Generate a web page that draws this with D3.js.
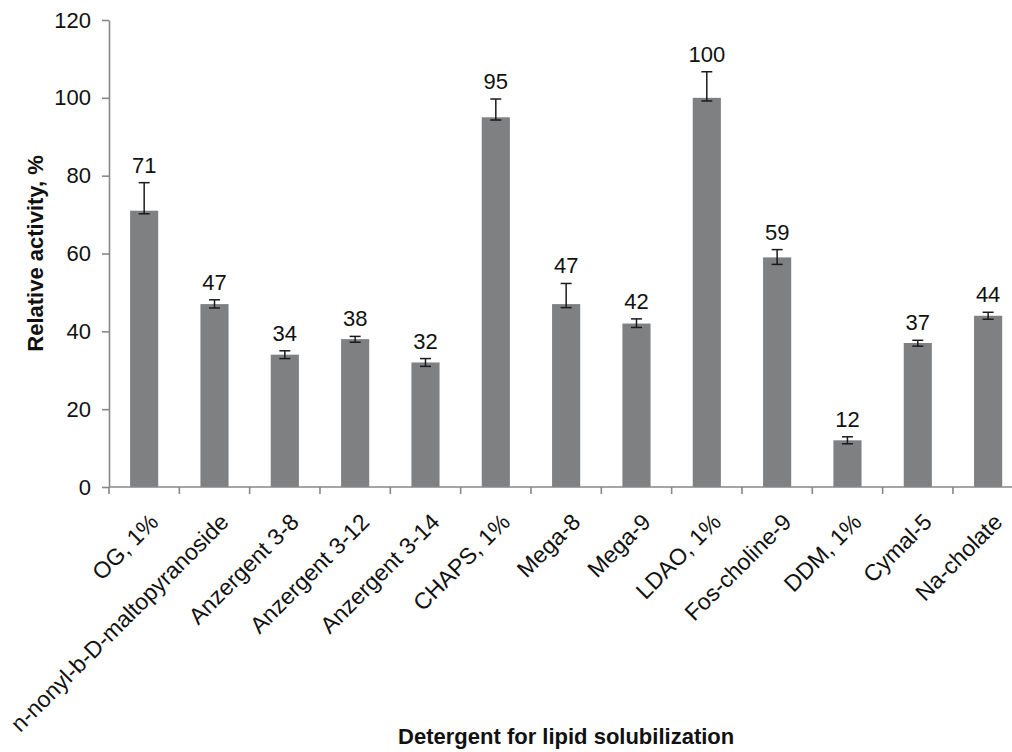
<!DOCTYPE html>
<html>
<head>
<meta charset="utf-8">
<script src="https://cdn.jsdelivr.net/npm/d3@7"></script>
<style>
  html, body { margin: 0; padding: 0; background: #fff; }
  svg { display: block; font-family: "Liberation Sans", Arial, sans-serif; }
</style>
</head>
<body>
<svg id="chart" width="1012" height="752"></svg>
<script>
// Detergents tested for lipid solubilization
const categories = [
  "OG, 1%", "n-nonyl-b-D-maltopyranoside", "Anzergent 3-8", "Anzergent 3-12",
  "Anzergent 3-14", "CHAPS, 1%", "Mega-8", "Mega-9", "LDAO, 1%",
  "Fos-choline-9", "DDM, 1%", "Cymal-5", "Na-cholate"
];
// Relative activity, %
const activity = [71, 47, 34, 38, 32, 95, 47, 42, 100, 59, 12, 37, 44];
// Error bar extents above and below each value
const errPlus  = [7.2, 1.1, 1.0, 0.7, 1.0, 4.7, 5.3, 1.2, 6.7, 2.0, 0.9, 0.7, 0.9];
const errMinus = [0.8, 1.0, 1.0, 0.8, 1.0, 0.7, 0.9, 1.0, 0.8, 1.8, 0.9, 0.8, 0.9];
const yTicks = [0, 20, 40, 60, 80, 100, 120];

const svg = d3.select("#chart");
const plotLeft = 109, plotTop = 20, plotBottom = 487;
const step = 70.33;
const fontSize = 22;
const catFontSize = 23;

const x = d3.scaleBand()
  .domain(categories)
  .range([plotLeft, plotLeft + step * categories.length])
  .paddingInner(0.6)
  .paddingOuter(0.3);

const y = d3.scaleLinear().domain([0, 120]).range([plotBottom, plotTop]);

const axisColor = "#878787";

// Y axis
const yAxis = svg.append("g")
  .attr("transform", `translate(${plotLeft},0)`)
  .call(d3.axisLeft(y).tickValues(yTicks).tickSize(7).tickPadding(11).tickSizeOuter(0));
yAxis.select(".domain").attr("stroke", axisColor).attr("stroke-width", 1.6);
yAxis.selectAll(".tick line").attr("stroke", axisColor).attr("stroke-width", 1.6);
yAxis.selectAll(".tick text")
  .attr("font-size", fontSize).attr("fill", "#111")
  .attr("font-family", "'Liberation Sans', Arial, sans-serif");

// Bars
svg.append("g").selectAll("rect")
  .data(activity)
  .join("rect")
  .attr("x", (d, i) => x(categories[i]))
  .attr("y", d => y(d))
  .attr("width", x.bandwidth())
  .attr("height", d => y(0) - y(d))
  .attr("fill", "#7f8082");

// X axis: ticks sit on band boundaries
const xAxisG = svg.append("g");
const xEnd = plotLeft + step * categories.length;
xAxisG.append("line")
  .attr("x1", plotLeft).attr("x2", xEnd)
  .attr("y1", y(0)).attr("y2", y(0))
  .attr("stroke", axisColor).attr("stroke-width", 1.6);
const boundaries = d3.range(categories.length + 1).map(i => plotLeft + i * step);
xAxisG.selectAll("line.tick")
  .data(boundaries)
  .join("line")
  .attr("class", "tick")
  .attr("x1", d => d).attr("x2", d => d)
  .attr("y1", y(0)).attr("y2", y(0) + 7)
  .attr("stroke", axisColor).attr("stroke-width", 1.6);

// Error bars
const capHalf = 5.5;
const eb = svg.append("g").attr("stroke", "#1a1a1a").attr("stroke-width", 1.5);
activity.forEach((v, i) => {
  const cx = x(categories[i]) + x.bandwidth() / 2;
  const yHi = y(v + errPlus[i]), yLo = y(v - errMinus[i]);
  eb.append("line").attr("x1", cx).attr("x2", cx).attr("y1", yHi).attr("y2", yLo);
  eb.append("line").attr("x1", cx - capHalf).attr("x2", cx + capHalf).attr("y1", yHi).attr("y2", yHi);
  eb.append("line").attr("x1", cx - capHalf).attr("x2", cx + capHalf).attr("y1", yLo).attr("y2", yLo);
});

// Value labels above the error bars
svg.append("g").selectAll("text")
  .data(activity)
  .join("text")
  .attr("x", (d, i) => x(categories[i]) + x.bandwidth() / 2)
  .attr("y", (d, i) => y(d + errPlus[i]) - 10)
  .attr("text-anchor", "middle")
  .attr("font-size", fontSize)
  .attr("fill", "#111")
  .text(d => d);

// Rotated category labels
svg.append("g").selectAll("text")
  .data(categories)
  .join("text")
  .attr("transform", d => `translate(${x(d) + x.bandwidth() / 2 + 4},${plotBottom + 25}) rotate(-45)`)
  .attr("text-anchor", "end")
  .attr("dy", "0.71em")
  .attr("font-size", catFontSize)
  .attr("fill", "#111")
  .text(d => d);

// Axis titles
svg.append("text")
  .attr("transform", `translate(43,${(plotTop + plotBottom) / 2}) rotate(-90)`)
  .attr("text-anchor", "middle")
  .attr("font-size", fontSize)
  .attr("font-weight", "bold")
  .attr("fill", "#111")
  .text("Relative activity, %");

svg.append("text")
  .attr("x", (plotLeft + xEnd) / 2)
  .attr("y", 744)
  .attr("text-anchor", "middle")
  .attr("font-size", fontSize)
  .attr("font-weight", "bold")
  .attr("fill", "#111")
  .text("Detergent for lipid solubilization");
</script>
</body>
</html>
